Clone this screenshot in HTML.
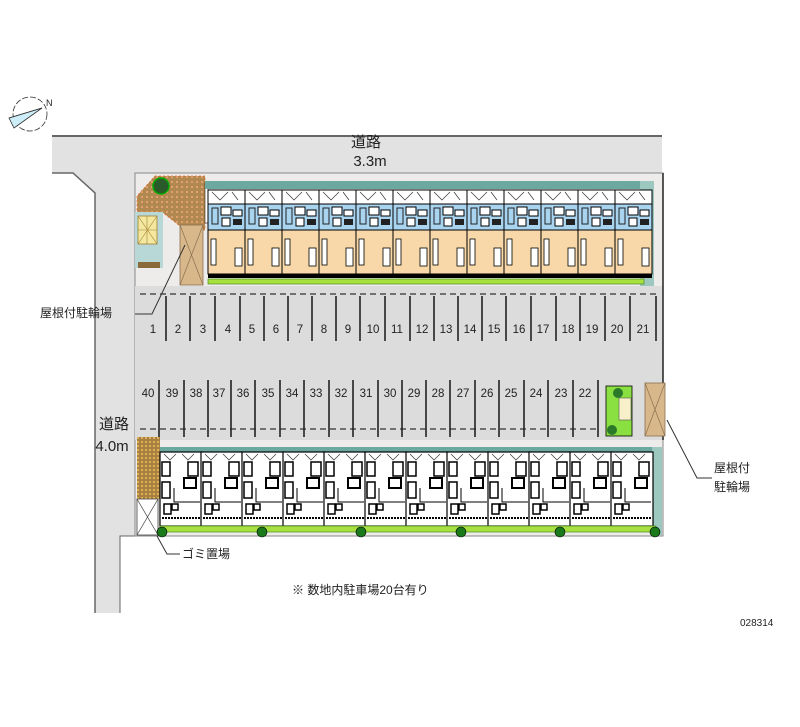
<!DOCTYPE html>
<html><head><meta charset="utf-8"><style>
html,body{margin:0;padding:0;background:#fff;}
svg{display:block;}
text{font-family:"Liberation Sans","Noto Sans CJK JP",sans-serif;fill:#222;}
</style></head><body>
<svg width="800" height="727" viewBox="0 0 800 727" xmlns="http://www.w3.org/2000/svg">
<defs>
<pattern id="brick" width="5" height="5" patternUnits="userSpaceOnUse">
<rect width="5" height="5" fill="#b08850"/><rect x="1" y="1" width="2" height="2" fill="#e0a070"/></pattern>
<pattern id="dot" width="4" height="4" patternUnits="userSpaceOnUse">
<rect width="4" height="4" fill="#a88040"/><circle cx="2" cy="2" r="1" fill="#f0c060"/></pattern>
<g id="tu">
<rect x="0" y="0" width="37" height="14" fill="#fff" stroke="#000" stroke-width="1"/>
<path d="M4 2 L12 10 L20 2 M24 2 L30 10" stroke="#333" stroke-width="0.7" fill="none"/>
<rect x="0" y="14" width="37" height="26" fill="#a8d4f0" stroke="#000" stroke-width="1"/>
<rect x="13" y="17" width="10" height="8" fill="#fff" stroke="#000" stroke-width="1"/>
<rect x="25" y="20" width="9" height="6" fill="#fff" stroke="#000" stroke-width="1"/>
<rect x="14" y="28" width="8" height="8" fill="#fff" stroke="#000" stroke-width="1"/>
<rect x="25" y="29" width="9" height="6" fill="#222"/>
<rect x="4" y="18" width="6" height="16" fill="none" stroke="#222" stroke-width="1"/>
<rect x="0" y="40" width="37" height="44" fill="#f8d8a8" stroke="#000" stroke-width="1"/>
<rect x="3" y="49" width="5" height="26" fill="#fff" stroke="#000" stroke-width="0.8"/>
<rect x="27" y="58" width="7" height="18" fill="#fff" stroke="#000" stroke-width="0.8"/>
<rect x="0" y="84" width="37" height="4" fill="#000"/>
</g>
<g id="bu">
<rect x="0" y="0" width="42" height="74" fill="#fff" stroke="#000" stroke-width="1.2"/>
<path d="M4 2 L10 8 L16 2 M22 2 L28 8 L34 2" stroke="#333" stroke-width="0.7" fill="none"/>
<rect x="2" y="10" width="8" height="14" fill="#fff" stroke="#000" stroke-width="1.5"/>
<rect x="28" y="10" width="10" height="14" fill="#fff" stroke="#000" stroke-width="1.5"/>
<rect x="24" y="26" width="12" height="10" fill="#fff" stroke="#000" stroke-width="2"/>
<rect x="2" y="30" width="8" height="16" fill="#fff" stroke="#000" stroke-width="1.5"/>
<path d="M14 36 V50 H40" stroke="#000" fill="none" stroke-width="1"/>
<rect x="4" y="52" width="7" height="10" fill="#fff" stroke="#000" stroke-width="1.5"/>
<rect x="12" y="52" width="6" height="6" fill="#fff" stroke="#000" stroke-width="1.5"/>
<path d="M2 66 H40" stroke="#000" stroke-dasharray="2 1" stroke-width="2"/>
</g>
</defs>

<!-- compass -->
<g stroke="#333" stroke-width="0.8" fill="none">
<circle cx="30" cy="114" r="17" stroke-dasharray="6 2"/>
<polygon points="9,118 42,108 14,128" fill="#cdeef8"/>
<line x1="9" y1="118" x2="42" y2="108"/>
</g>
<text x="46" y="106" font-size="9">N</text>

<!-- roads -->
<polygon points="52,136 662,136 662,173 135,173 135,536 120,536 120,613 95,613 95,193 73,173 52,173" fill="#e2e2e2"/>
<polyline points="52,136 662,136" stroke="#666" stroke-width="2" fill="none"/>
<polyline points="52,173 73,173 95,193 95,613" stroke="#666" stroke-width="1.5" fill="none"/>
<polyline points="135,536 120,536 120,613" stroke="#666" stroke-width="1" fill="none"/>

<!-- site -->
<rect x="135" y="173" width="528" height="363" fill="#eeecea" stroke="#888" stroke-width="1"/>
<rect x="135" y="286" width="528" height="154" fill="#dcdcdc"/>
<line x1="663" y1="173" x2="663" y2="440" stroke="#222" stroke-width="1.5"/>

<!-- top-left paving & bikes -->
<polygon points="155,176 205,176 205,230 185,230 162,212 137,212 137,196" fill="url(#brick)" stroke="#e07030" stroke-width="0.8" stroke-dasharray="2 2"/>
<circle cx="161" cy="186" r="8" fill="#2a5a2a" stroke="#0a0" stroke-width="1.5"/>
<rect x="135" y="212" width="28" height="56" fill="#b8d8d8"/>
<rect x="138" y="216" width="19" height="28" fill="#f4e8a0" stroke="#a08030" stroke-width="0.8"/>
<path d="M138 216 L157 244 M157 216 L138 244 M138 230 H157 M147 216 V244" stroke="#a08030" stroke-width="0.6"/>
<rect x="138" y="262" width="22" height="6" fill="#8a6a3a"/>
<rect x="180" y="225" width="23" height="60" fill="#d8b88a" stroke="#8a7050" stroke-width="0.8"/>
<path d="M180 225 L203 285 M203 225 L180 285" stroke="#8a7050" stroke-width="0.7"/>
<rect x="205" y="183" width="3" height="40" fill="#fff" stroke="#000" stroke-width="0.5"/>

<!-- top building -->
<rect x="205" y="181" width="448" height="8" fill="#6aa8a0"/>
<rect x="640" y="181" width="14" height="105" fill="#9cc8c0"/>
<g transform="translate(208,190)">
<use href="#tu" x="0"/><use href="#tu" x="37"/><use href="#tu" x="74"/><use href="#tu" x="111"/>
<use href="#tu" x="148"/><use href="#tu" x="185"/><use href="#tu" x="222"/><use href="#tu" x="259"/>
<use href="#tu" x="296"/><use href="#tu" x="333"/><use href="#tu" x="370"/><use href="#tu" x="407"/>
</g>
<rect x="208" y="279" width="436" height="5" fill="#a8e040" stroke="#4a8a20" stroke-width="0.7"/>

<!-- parking lines -->
<g stroke="#333" stroke-width="1.3" fill="none">
<line x1="140" y1="294" x2="660" y2="294" stroke-dasharray="6 4"/>
<line x1="140" y1="429" x2="600" y2="429" stroke-dasharray="6 4"/>
</g>
<g stroke="#222" stroke-width="1.6">
<line x1="166" y1="296" x2="166" y2="341"/><line x1="190" y1="296" x2="190" y2="341"/><line x1="215" y1="296" x2="215" y2="341"/>
<line x1="240" y1="296" x2="240" y2="341"/><line x1="264" y1="296" x2="264" y2="341"/><line x1="288" y1="296" x2="288" y2="341"/>
<line x1="312" y1="296" x2="312" y2="341"/><line x1="336" y1="296" x2="336" y2="341"/><line x1="360" y1="296" x2="360" y2="341"/>
<line x1="385" y1="296" x2="385" y2="341"/><line x1="410" y1="296" x2="410" y2="341"/><line x1="434" y1="296" x2="434" y2="341"/>
<line x1="458" y1="296" x2="458" y2="341"/><line x1="482" y1="296" x2="482" y2="341"/><line x1="506" y1="296" x2="506" y2="341"/>
<line x1="531" y1="296" x2="531" y2="341"/><line x1="556" y1="296" x2="556" y2="341"/><line x1="580" y1="296" x2="580" y2="341"/>
<line x1="605" y1="296" x2="605" y2="341"/><line x1="630" y1="296" x2="630" y2="341"/><line x1="656" y1="296" x2="656" y2="341"/>
<line x1="159" y1="380" x2="159" y2="437"/><line x1="184" y1="380" x2="184" y2="437"/><line x1="208" y1="380" x2="208" y2="437"/>
<line x1="231" y1="380" x2="231" y2="437"/><line x1="255" y1="380" x2="255" y2="437"/><line x1="280" y1="380" x2="280" y2="437"/>
<line x1="304" y1="380" x2="304" y2="437"/><line x1="329" y1="380" x2="329" y2="437"/><line x1="353" y1="380" x2="353" y2="437"/>
<line x1="378" y1="380" x2="378" y2="437"/><line x1="402" y1="380" x2="402" y2="437"/><line x1="426" y1="380" x2="426" y2="437"/>
<line x1="450" y1="380" x2="450" y2="437"/><line x1="475" y1="380" x2="475" y2="437"/><line x1="499" y1="380" x2="499" y2="437"/>
<line x1="524" y1="380" x2="524" y2="437"/><line x1="548" y1="380" x2="548" y2="437"/><line x1="573" y1="380" x2="573" y2="437"/>
<line x1="598" y1="380" x2="598" y2="437"/>
</g>
<g font-size="11.5" text-anchor="middle">
<text x="153" y="333">1</text><text x="178" y="333">2</text><text x="203" y="333">3</text><text x="228" y="333">4</text>
<text x="252" y="333">5</text><text x="276" y="333">6</text><text x="300" y="333">7</text><text x="324" y="333">8</text>
<text x="348" y="333">9</text><text x="373" y="333">10</text><text x="397" y="333">11</text><text x="422" y="333">12</text>
<text x="446" y="333">13</text><text x="470" y="333">14</text><text x="494" y="333">15</text><text x="519" y="333">16</text>
<text x="543" y="333">17</text><text x="568" y="333">18</text><text x="592" y="333">19</text><text x="617" y="333">20</text>
<text x="643" y="333">21</text>
<text x="148" y="397">40</text><text x="172" y="397">39</text><text x="196" y="397">38</text><text x="219" y="397">37</text>
<text x="243" y="397">36</text><text x="268" y="397">35</text><text x="292" y="397">34</text><text x="316" y="397">33</text>
<text x="341" y="397">32</text><text x="366" y="397">31</text><text x="390" y="397">30</text><text x="414" y="397">29</text>
<text x="438" y="397">28</text><text x="463" y="397">27</text><text x="487" y="397">26</text><text x="511" y="397">25</text>
<text x="536" y="397">24</text><text x="561" y="397">23</text><text x="585" y="397">22</text>
</g>

<!-- right planter & bike -->
<rect x="606" y="386" width="26" height="50" fill="#8ae040" stroke="#000" stroke-width="0.8"/>
<rect x="619" y="398" width="12" height="22" fill="#f8f0c8" stroke="#555" stroke-width="0.6"/>
<circle cx="618" cy="393" r="5" fill="#2a7a2a"/><circle cx="612" cy="430" r="5" fill="#2a7a2a"/>
<rect x="645" y="383" width="20" height="53" fill="#d8b88a" stroke="#8a7050" stroke-width="0.8"/>
<path d="M645 383 L665 436 M665 383 L645 436" stroke="#8a7050" stroke-width="0.7"/>

<!-- bottom left -->
<rect x="137" y="437" width="23" height="62" fill="url(#dot)"/>
<rect x="137" y="499" width="21" height="36" fill="#fff" stroke="#444" stroke-width="0.8"/>
<path d="M137 499 L158 535 M158 499 L137 535" stroke="#444" stroke-width="0.7"/>

<!-- bottom building -->
<rect x="160" y="447" width="500" height="5" fill="#6aa8a0"/>
<rect x="652" y="447" width="10" height="88" fill="#9cc8c0"/>
<g transform="translate(160,452)">
<use href="#bu" x="0"/><use href="#bu" x="41"/><use href="#bu" x="82"/><use href="#bu" x="123"/>
<use href="#bu" x="164"/><use href="#bu" x="205"/><use href="#bu" x="246"/><use href="#bu" x="287"/>
<use href="#bu" x="328"/><use href="#bu" x="369"/><use href="#bu" x="410"/><use href="#bu" x="451"/>
</g>
<rect x="160" y="526" width="496" height="6" fill="#a8e040" stroke="#4a8a20" stroke-width="0.7"/>
<g fill="#1a7a1a" stroke="#000" stroke-width="0.6">
<circle cx="162" cy="532" r="5"/><circle cx="262" cy="532" r="5"/><circle cx="361" cy="532" r="5"/>
<circle cx="461" cy="532" r="5"/><circle cx="560" cy="532" r="5"/><circle cx="655" cy="532" r="5"/>
</g>

<!-- leaders -->
<g stroke="#333" stroke-width="1" fill="none">
<polyline points="135,314 152,314 185,245"/>
<polyline points="157,536 167,554 180,554"/>
<polyline points="667,420 697,478 712,478"/>
</g>

<!-- labels -->
<g font-size="15" text-anchor="middle">
<text x="366" y="147">道路</text>
<text x="370" y="166">3.3m</text>
<text x="114" y="429">道路</text>
<text x="112" y="451">4.0m</text>
</g>
<g font-size="12">
<text x="40" y="317">屋根付駐輪場</text>
<text x="182" y="558">ゴミ置場</text>
<text x="714" y="472">屋根付</text>
<text x="714" y="491">駐輪場</text>
<text x="292" y="594">※ 数地内駐車場20台有り</text>
</g>
<text x="740" y="626" font-size="10" fill="#555">028314</text>
</svg>
</body></html>
